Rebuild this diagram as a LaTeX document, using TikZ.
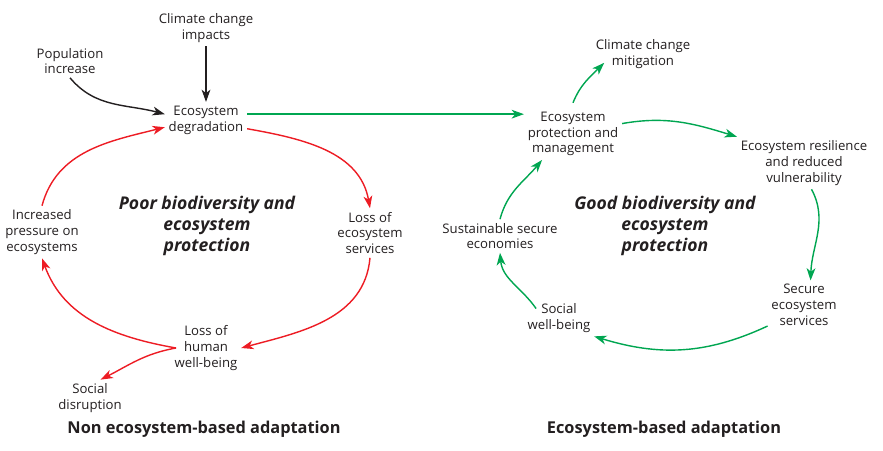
\documentclass[tikz,border=0pt]{standalone}
\usepackage{fontspec}
\setmainfont{Open Sans}
\usepackage{xcolor}
\usetikzlibrary{arrows.meta}
\definecolor{ebared}{RGB}{237,28,36}
\definecolor{ebagreen}{RGB}{0,166,81}
\definecolor{ebatext}{RGB}{35,31,32}

\begin{document}
\begin{tikzpicture}[x=0.02cm, y=0.02cm,
  txt/.style={align=center, font=\fontsize{7.5}{9}\selectfont, text=ebatext, inner sep=2pt},
  ttl/.style={align=center, font=\fontsize{10}{11.9}\selectfont\bfseries\itshape, text=ebatext},
  head/.style={font=\fontsize{9.3}{11}\selectfont\bfseries, text=ebatext},
  lnk/.style={line width=0.8pt, -{Stealth[length=7pt,width=5pt,inset=2pt]}},
  bad/.style={lnk, ebared},
  good/.style={lnk, ebagreen},
  cause/.style={lnk, ebatext}]
\useasboundingbox (0,0) rectangle (883,-450);

%non ecosystem-based side
\node[txt] (imp) at (206,-28) {Climate change\\impacts};
\node[txt] (pop) at (70,-61) {Population\\increase};
\node[txt] (deg) at (206,-120) {Ecosystem\\degradation};
\node[txt] (press) at (42,-232) {Increased\\pressure on\\ecosystems};
\node[txt] (lossS) at (370,-233) {Loss of\\ecosystem\\services};
\node[txt] (lossH) at (206,-348) {Loss of\\human\\well-being};
\node[txt] (disr) at (90,-398) {Social\\disruption};
\node[ttl] (poor) at (207,-226) {Poor biodiversity and\\ecosystem\\protection};
\node[head] (nonEba) at (204,-429) {Non ecosystem-based adaptation};

\draw[cause] (imp.south) -- (deg.north);
\draw[cause] (pop.south) to[out=-50, in=165] (deg.172);
\draw[bad] (deg.-12) to[out=-10, in=100] (lossS.north);
\draw[bad] (lossS.south) to[out=-95, in=15] (lossH.east);
\draw[bad] ([xshift=3pt]lossH.west) to[out=170, in=-70] (press.south);
\draw[bad] (press.north) to[out=75, in=194] (deg.190);
\draw[bad] ([xshift=3pt]lossH.west) to[out=190, in=27] (disr.60);

%ecosystem-based side
\node[txt] (mit) at (643,-54) {Climate change\\mitigation};
\node[txt] (epm) at (573,-134) {Ecosystem\\protection and\\management};
\node[txt] (res) at (804,-163) {Ecosystem resilience\\and reduced\\vulnerability};
\node[txt] (eco) at (500,-236) {Sustainable secure\\economies};
\node[txt] (sec) at (804,-305) {Secure\\ecosystem\\services};
\node[txt] (swb) at (559,-318) {Social\\well-being};
\node[ttl] (good) at (665,-226) {Good biodiversity and\\ecosystem\\protection};
\node[head] (eba) at (664,-429) {Ecosystem-based adaptation};

\draw[good] (epm.158 -| deg.east) -- (epm.158);
\draw[good] ([yshift=3pt]epm.north) to[out=68, in=225] ([xshift=7pt,yshift=-5pt]mit.west);
\draw[good] (epm.12) to[out=10, in=163] (res.north west);
\draw[good] (res.-74) to[out=-62, in=88] (sec.75);
\draw[good] (sec.210) to[out=205, in=-17] (swb.south east);
\draw[good] ([xshift=7pt]swb.165) to[out=125, in=-85] (eco.south);
\draw[good] (eco.north) to[out=75, in=230] (epm.-140);
\end{tikzpicture}
\end{document}
